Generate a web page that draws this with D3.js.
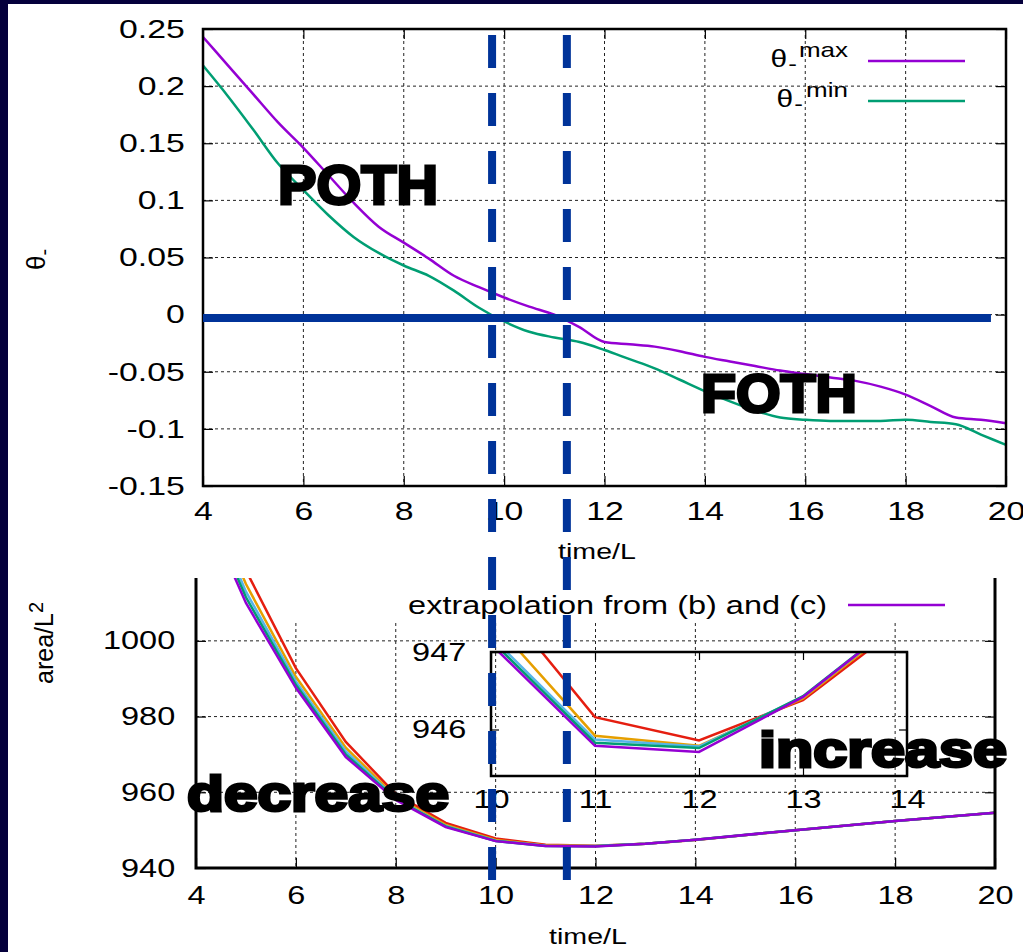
<!DOCTYPE html>
<html>
<head>
<meta charset="utf-8">
<script src="https://cdn.jsdelivr.net/npm/d3@7"></script>
<style>
body { margin: 0; background: #05003c; }
svg { display: block; }
text { font-family: "Liberation Sans", Arial, sans-serif; fill: #000; }
</style>
</head>
<body>
<svg width="1023" height="952"></svg>
<script>

// ---- upper panel: theta_- vs time/L ----
const tTheta = [4, 4.5, 5, 5.5, 6, 6.5, 7, 7.5, 8, 8.5, 9, 9.5, 10, 10.5, 11, 11.5, 12,
                12.5, 13, 13.5, 14, 14.5, 15, 15.5, 16, 16.5, 17, 17.5, 18, 18.5, 19, 19.5, 20];
const thetaMax = [0.243, 0.218, 0.193, 0.168, 0.146, 0.122, 0.098, 0.077, 0.063, 0.049, 0.034, 0.024,
                  0.015, 0.007, 0.000, -0.011, -0.024, -0.026, -0.028, -0.032, -0.037, -0.041, -0.045,
                  -0.049, -0.052, -0.055, -0.058, -0.063, -0.070, -0.080, -0.090, -0.092, -0.095];
const thetaMin = [0.218, 0.191, 0.162, 0.132, 0.109, 0.087, 0.068, 0.054, 0.043, 0.034, 0.021, 0.006,
                  -0.006, -0.015, -0.020, -0.024, -0.031, -0.039, -0.047, -0.057, -0.067, -0.076, -0.084,
                  -0.090, -0.092, -0.093, -0.093, -0.093, -0.092, -0.094, -0.096, -0.105, -0.114];
const upXTicks = [4, 6, 8, 10, 12, 14, 16, 18, 20];
const upYTicks = [-0.15, -0.1, -0.05, 0, 0.05, 0.1, 0.15, 0.2, 0.25];

// ---- lower panel: area/L^2 vs time/L ----
const tArea = [4, 5, 6, 7, 8, 9, 10, 11, 12, 13, 14, 16, 18, 20];
const areaRed    = [1050, 1018.6, 992.8, 973.3, 959.5, 951.9, 947.8, 946.16, 945.86, 946.38, 947.4, 950.0, 952.4, 954.6];
const areaOrange = [1046, 1015.0, 990.5, 971.8, 958.8, 951.4, 947.42, 945.92, 945.79, 946.40, 947.45, 950.0, 952.4, 954.6];
const areaBlue   = [1044, 1013.0, 989.3, 970.8, 958.4, 951.1, 947.2, 945.87, 945.78, 946.42, 947.47, 950.0, 952.4, 954.6];
const areaGreen  = [1042, 1011.5, 988.4, 970.0, 958.2, 951.0, 947.15, 945.83, 945.76, 946.43, 947.48, 950.0, 952.4, 954.6];
const areaPurple = [1040, 1010.0, 987.6, 969.3, 958.0, 950.8, 947.1, 945.79, 945.71, 946.42, 947.48, 950.0, 952.4, 954.6];
const loXTicks = [4, 6, 8, 10, 12, 14, 16, 18, 20];
const loYTicks = [940, 960, 980, 1000];
const insetXTicks = [10, 11, 12, 13, 14];
const insetYTicks = [946, 947];

// times where theta_min and theta_max cross zero (blue dashed markers)
const crossings = [9.76, 11.25];

const PURPLE = '#9400d3', GREEN = '#009e73', LBLUE = '#56b4e9', ORANGE = '#e69f00', RED = '#e51e10';
const NAVY = '#003399';
const SX = 1.3;   // the source picture is stretched sideways
const plain = d => String(d);   // gnuplot style: plain hyphen, no grouping

let svg = d3.select('svg');
svg.append('rect').attr('x', 8).attr('y', 4).attr('width', 1015).attr('height', 948).attr('fill', '#fff');

let stretchText = (g, x, y, str, size, anchor) => {
  return g.append('text')
    .attr('transform', 'translate(' + x + ',' + y + ') scale(' + SX + ',1)')
    .attr('text-anchor', anchor)
    .attr('font-size', size)
    .text(str);
};

let styleAxisText = (a, size) => {
  a.selectAll('text').attr('font-size', size).attr('fill', '#000')
    .attr('transform', 'scale(' + SX + ',1)').style('font-family', '"Liberation Sans", Arial, sans-serif');
};

// ================= upper panel =================
const T = {l: 203, r: 1006, t: 29, b: 486};
let xUp = d3.scaleLinear().domain([4, 20]).range([T.l, T.r]);
let yUp = d3.scaleLinear().domain([-0.15, 0.25]).range([T.b, T.t]);

let gUp = svg.append('g');

// grid
gUp.append('g').selectAll('line').data(upXTicks.slice(1, -1)).join('line')
  .attr('x1', d => xUp(d)).attr('x2', d => xUp(d)).attr('y1', T.t).attr('y2', T.b)
  .attr('stroke', '#222').attr('stroke-width', 1).attr('stroke-dasharray', '3,3');
gUp.append('g').selectAll('line').data(upYTicks.slice(1, -1)).join('line')
  .attr('y1', d => yUp(d)).attr('y2', d => yUp(d)).attr('x1', T.l).attr('x2', T.r)
  .attr('stroke', '#222').attr('stroke-width', 1).attr('stroke-dasharray', '3,3');

// axes (ticks inward, mirrored)
let axB = gUp.append('g').attr('transform', 'translate(0,' + T.b + ')')
  .call(d3.axisBottom(xUp).tickValues(upXTicks).tickFormat(plain).tickSizeInner(-10).tickSizeOuter(0).tickPadding(16));
let axL = gUp.append('g').attr('transform', 'translate(' + T.l + ',0)')
  .call(d3.axisLeft(yUp).tickValues(upYTicks).tickFormat(plain).tickSizeInner(-10).tickSizeOuter(0).tickPadding(14));
gUp.append('g').attr('transform', 'translate(0,' + T.t + ')')
  .call(d3.axisTop(xUp).tickValues(upXTicks).tickSizeInner(-10).tickSizeOuter(0).tickFormat(''));
gUp.append('g').attr('transform', 'translate(' + T.r + ',0)')
  .call(d3.axisRight(yUp).tickValues(upYTicks).tickSizeInner(-10).tickSizeOuter(0).tickFormat(''));
styleAxisText(axB, 26);
styleAxisText(axL, 26);
gUp.selectAll('.domain').remove();
gUp.selectAll('.tick line').attr('stroke', '#000').attr('stroke-width', 1.2);

let lineUp = d3.line().x((d, i) => xUp(tTheta[i])).y(d => yUp(d)).curve(d3.curveMonotoneX);
gUp.append('path').datum(thetaMin).attr('d', lineUp).attr('fill', 'none').attr('stroke', GREEN).attr('stroke-width', 2.5);
gUp.append('path').datum(thetaMax).attr('d', lineUp).attr('fill', 'none').attr('stroke', PURPLE).attr('stroke-width', 2.5);

gUp.append('rect').attr('x', T.l).attr('y', T.t).attr('width', T.r - T.l).attr('height', T.b - T.t)
  .attr('fill', 'none').attr('stroke', '#000').attr('stroke-width', 2.5);

// legend
let leg = gUp.append('g');
[[PURPLE, 'max', 61], [GREEN, 'min', 101]].forEach(([c, sup, y]) => {
  leg.append('line').attr('x1', 868).attr('x2', 965).attr('y1', y).attr('y2', y).attr('stroke', c).attr('stroke-width', 2.5);
  let w = sup === 'max' ? 49 : 43;
  stretchText(leg, 848, y - 4, sup, 20, 'end');
  stretchText(leg, 848 - w - 2, y + 10, '-', 20, 'end');
  stretchText(leg, 848 - w - 12, y + 6, 'θ', 23, 'end');
});

// axis titles
stretchText(gUp, 597, 559, 'time/L', 22, 'middle');
let yl = gUp.append('text').attr('transform', 'translate(45,270) rotate(-90)').attr('font-size', 26);
yl.append('tspan').text('θ');
yl.append('tspan').attr('dy', 6).attr('font-size', 20).text('-');

// annotations
gUp.append('text').attr('x', 278).attr('y', 204).attr('font-size', 56).attr('font-weight', 'bold')
  .attr('stroke', '#000').attr('stroke-width', 3).attr('textLength', 160).attr('lengthAdjust', 'spacingAndGlyphs').text('POTH');
gUp.append('text').attr('x', 701).attr('y', 412).attr('font-size', 54).attr('font-weight', 'bold')
  .attr('stroke', '#000').attr('stroke-width', 3).attr('textLength', 156).attr('lengthAdjust', 'spacingAndGlyphs').text('FOTH');

// ================= lower panel =================
const B = {l: 196, r: 995, t: 578, b: 868};
let xLo = d3.scaleLinear().domain([4, 20]).range([B.l, B.r]);
let yLo = d3.scaleLinear().domain([940, 1016.6]).range([B.b, B.t]);

let gLo = svg.append('g');
svg.append('clipPath').attr('id', 'clipB').append('rect')
  .attr('x', B.l).attr('y', B.t).attr('width', B.r - B.l).attr('height', B.b - B.t);

gLo.append('g').selectAll('line').data(loXTicks.slice(1, -1)).join('line')
  .attr('x1', d => xLo(d)).attr('x2', d => xLo(d)).attr('y1', 623).attr('y2', B.b)
  .attr('stroke', '#222').attr('stroke-width', 1).attr('stroke-dasharray', '3,3');
gLo.append('g').selectAll('line').data(loYTicks.slice(1)).join('line')
  .attr('y1', d => yLo(d)).attr('y2', d => yLo(d)).attr('x1', B.l).attr('x2', B.r)
  .attr('stroke', '#222').attr('stroke-width', 1).attr('stroke-dasharray', '3,3');

let bB = gLo.append('g').attr('transform', 'translate(0,' + B.b + ')')
  .call(d3.axisBottom(xLo).tickValues(loXTicks).tickFormat(plain).tickSizeInner(-10).tickSizeOuter(0).tickPadding(18));
let bL = gLo.append('g').attr('transform', 'translate(' + B.l + ',0)')
  .call(d3.axisLeft(yLo).tickValues(loYTicks).tickFormat(plain).tickSizeInner(-10).tickSizeOuter(0).tickPadding(16));
gLo.append('g').attr('transform', 'translate(' + B.r + ',0)')
  .call(d3.axisRight(yLo).tickValues(loYTicks).tickSizeInner(-10).tickSizeOuter(0).tickFormat(''));
styleAxisText(bB, 25);
styleAxisText(bL, 25);
gLo.selectAll('.domain').remove();
gLo.selectAll('.tick line').attr('stroke', '#000').attr('stroke-width', 1.2);

let areaSeries = [[areaRed, RED], [areaOrange, ORANGE], [areaBlue, LBLUE], [areaGreen, GREEN], [areaPurple, PURPLE]];
let lineLo = d3.line().x((d, i) => xLo(tArea[i])).y(d => yLo(d));
let curves = gLo.append('g').attr('clip-path', 'url(#clipB)');
areaSeries.forEach(([vals, c]) => {
  curves.append('path').datum(vals).attr('d', lineLo).attr('fill', 'none').attr('stroke', c).attr('stroke-width', 2.5);
});

gLo.append('path').attr('d', 'M' + B.l + ',' + B.t + 'V' + B.b + 'H' + B.r + 'V' + B.t)
  .attr('fill', 'none').attr('stroke', '#000').attr('stroke-width', 3);

// key
stretchText(gLo, 827, 614, 'extrapolation from (b) and (c)', 25, 'end');
gLo.append('line').attr('x1', 848).attr('x2', 945).attr('y1', 605).attr('y2', 605).attr('stroke', PURPLE).attr('stroke-width', 2.5);

stretchText(gLo, 588, 944, 'time/L', 22, 'middle');
let yl2 = gLo.append('text').attr('transform', 'translate(53,684) rotate(-90)').attr('font-size', 25);
yl2.append('tspan').text('area/L');
yl2.append('tspan').attr('dy', -10).attr('font-size', 20).text('2');

// ---- inset ----
const I = {l: 491, r: 907, t: 652, b: 776};
let xIn = d3.scaleLinear().domain([10, 14]).range([I.l, I.r]);
let yIn = d3.scaleLinear().domain([945.4, 947]).range([I.b, I.t]);
svg.append('clipPath').attr('id', 'clipI').append('rect')
  .attr('x', I.l).attr('y', I.t).attr('width', I.r - I.l).attr('height', I.b - I.t);
let inset = gLo.append('g');
let iB = inset.append('g').attr('transform', 'translate(0,' + I.b + ')')
  .call(d3.axisBottom(xIn).tickValues(insetXTicks).tickFormat(plain).tickSizeInner(-8).tickSizeOuter(0).tickPadding(14));
let iL = inset.append('g').attr('transform', 'translate(' + I.l + ',0)')
  .call(d3.axisLeft(yIn).tickValues(insetYTicks).tickFormat(plain).tickSizeInner(-8).tickSizeOuter(0).tickPadding(19));
inset.append('g').attr('transform', 'translate(0,' + I.t + ')')
  .call(d3.axisTop(xIn).tickValues(insetXTicks).tickSizeInner(-8).tickSizeOuter(0).tickFormat(''));
inset.append('g').attr('transform', 'translate(' + I.r + ',0)')
  .call(d3.axisRight(yIn).tickValues(insetYTicks).tickSizeInner(-8).tickSizeOuter(0).tickFormat(''));
styleAxisText(iB, 25);
styleAxisText(iL, 25);
inset.selectAll('.domain').remove();
inset.selectAll('.tick line').attr('stroke', '#000').attr('stroke-width', 1.2);
let lineIn = d3.line().x((d, i) => xIn(tArea[i])).y(d => yIn(d));
let icurves = inset.append('g').attr('clip-path', 'url(#clipI)');
areaSeries.forEach(([vals, c]) => {
  icurves.append('path').datum(vals).attr('d', lineIn).attr('fill', 'none').attr('stroke', c).attr('stroke-width', 2.5);
});
inset.append('rect').attr('x', I.l).attr('y', I.t).attr('width', I.r - I.l).attr('height', I.b - I.t)
  .attr('fill', 'none').attr('stroke', '#000').attr('stroke-width', 2.5);

gLo.append('text').attr('x', 187).attr('y', 811).attr('font-size', 50).attr('font-weight', 'bold')
  .attr('stroke', '#000').attr('stroke-width', 3).attr('textLength', 262).attr('lengthAdjust', 'spacingAndGlyphs').text('decrease');
gLo.append('text').attr('x', 759).attr('y', 767).attr('font-size', 50).attr('font-weight', 'bold')
  .attr('stroke', '#000').attr('stroke-width', 3).attr('textLength', 248).attr('lengthAdjust', 'spacingAndGlyphs').text('increase');

// ================= blue markers =================
svg.append('line').attr('x1', T.l).attr('x2', xUp(19.7)).attr('y1', yUp(-0.003)).attr('y2', yUp(-0.003))
  .attr('stroke', NAVY).attr('stroke-width', 8);
crossings.forEach(t => {
  svg.append('line').attr('x1', xUp(t)).attr('x2', xUp(t)).attr('y1', 35).attr('y2', 880)
    .attr('stroke', NAVY).attr('stroke-width', 8).attr('stroke-dasharray', '33,25');
});

</script>
</body>
</html>
